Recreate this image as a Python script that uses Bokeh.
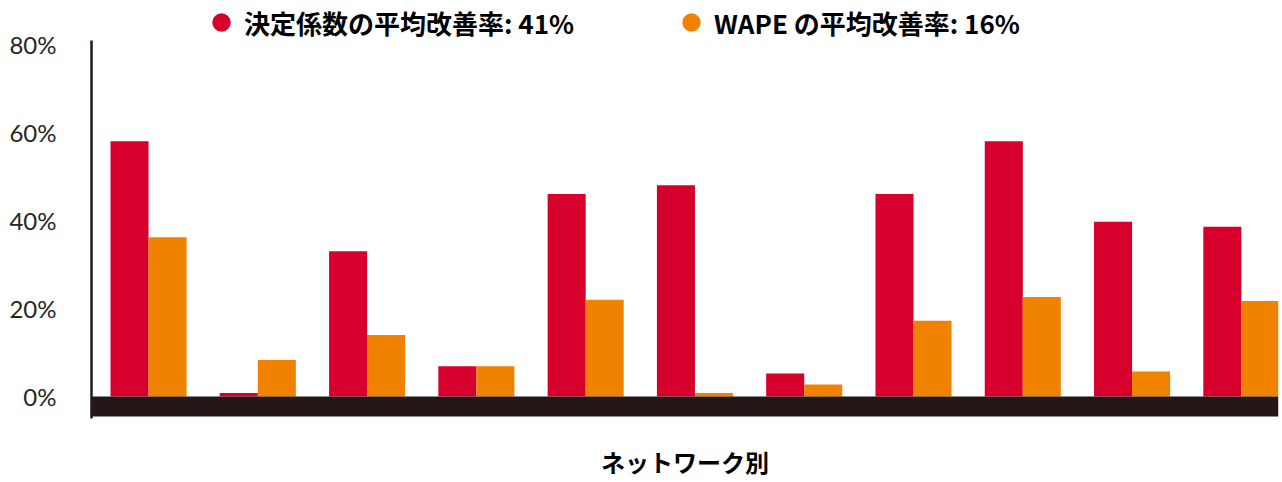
from bokeh.plotting import figure
from bokeh.models import Range1d, ColumnDataSource, BoxAnnotation, Legend, LegendItem, FixedTicker
from bokeh.transform import dodge
from bokeh.embed import file_html
from bokeh.resources import INLINE

networks = ["N1", "N2", "N3", "N4", "N5", "N6", "N7", "N8", "N9", "N10", "N11"]
r2_improvement = [58, 0.8, 33, 6.9, 46, 48, 5.2, 46, 58, 39.7, 38.6]
wape_improvement = [36.2, 8.3, 14, 6.9, 22, 0.8, 2.7, 17.2, 22.6, 5.7, 21.7]
y_ticks = [0, 20, 40, 60, 80]
legend_labels = ["決定係数の平均改善率: 41%", "WAPE の平均改善率: 16%"]
x_title = "ネットワーク別"

RED = "#D7002D"
ORANGE = "#F08200"
DARK = "#231815"

idx = list(range(len(networks)))
src = ColumnDataSource(dict(x=idx, r2=r2_improvement, wape=wape_improvement))

p = figure(width=1282, height=482, output_backend="svg", toolbar_location=None,
           x_range=Range1d(-0.522, 10.34), y_range=Range1d(-5.0, 90.0),
           min_border_left=91, min_border_right=4, min_border_top=0, min_border_bottom=64)
p.outline_line_color = None
p.xgrid.grid_line_color = None
p.ygrid.grid_line_color = None
p.background_fill_color = "white"
p.border_fill_color = "white"

bw = 0.348
p.vbar(x=dodge("x", -bw / 2), top="r2", width=bw, bottom=0, source=src,
       fill_color=RED, line_color=None)
p.vbar(x=dodge("x", bw / 2), top="wape", width=bw, bottom=0, source=src,
       fill_color=ORANGE, line_color=None)

band = BoxAnnotation(top=0, bottom=-4.55, fill_color=DARK, fill_alpha=1.0, line_color=None)
p.add_layout(band)

# y axis
p.yaxis.ticker = FixedTicker(ticks=y_ticks)
p.yaxis.bounds = (-5.0, 80.9)
p.yaxis.major_label_overrides = {t: f"{t}%" for t in y_ticks}
p.yaxis.major_tick_line_color = None
p.yaxis.minor_tick_line_color = None
p.yaxis.axis_line_color = DARK
p.yaxis.axis_line_width = 2.5
p.yaxis.major_label_standoff = 29
p.yaxis.major_label_text_font = "Lato"
p.yaxis.major_label_text_font_size = "24px"
p.yaxis.major_label_text_color = "#262626"

# x axis
p.xaxis.ticker = FixedTicker(ticks=[])
p.xaxis.axis_line_color = None
p.xaxis.major_tick_line_color = None
p.xaxis.minor_tick_line_color = None
p.xaxis.major_label_text_font_size = "0px"
p.xaxis.axis_label = x_title
p.xaxis.axis_label_text_font = "Noto Sans CJK JP"
p.xaxis.axis_label_text_font_style = "bold"
p.xaxis.axis_label_text_font_size = "24px"
p.xaxis.axis_label_text_color = "black"
p.xaxis.axis_label_standoff = 25

# legend with circle markers (hidden marker renderers, used only for the legend glyphs)
r_leg1 = p.scatter(x="x", y="r2", source=src, marker="circle",
                   fill_color=RED, line_color=None, visible=False)
r_leg2 = p.scatter(x="x", y="wape", source=src, marker="circle",
                   fill_color=ORANGE, line_color=None, visible=False)
legend = Legend(items=[LegendItem(label=legend_labels[0], renderers=[r_leg1]),
                       LegendItem(label=legend_labels[1], renderers=[r_leg2])],
                orientation="horizontal", location=(107, 372),
                padding=0, margin=0, spacing=94,
                glyph_width=46, glyph_height=48, label_standoff=0,
                label_height=30, click_policy="none",
                label_text_font="Noto Sans CJK JP", label_text_font_style="bold",
                label_text_font_size="26px", label_text_color="black",
                background_fill_alpha=0, border_line_color=None)
p.add_layout(legend)

open("out.html", "w").write(file_html(p, INLINE))
